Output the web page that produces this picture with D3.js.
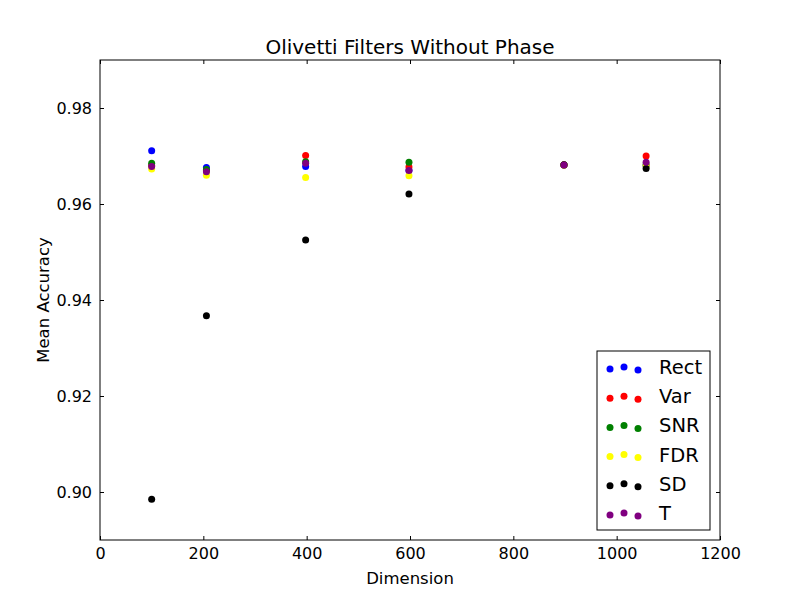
<!DOCTYPE html>
<html>
<head>
<meta charset="utf-8">
<script src="https://cdn.jsdelivr.net/npm/d3@7"></script>
<style>
  body { margin: 0; background: #fff; }
  text { font-family: "DejaVu Sans", sans-serif; }
</style>
</head>
<body>
<svg id="chart" width="800" height="600"></svg>
<script>
// Data
const dims = [100, 206, 398, 598, 898, 1057];
const rect = [0.9711, 0.9676, 0.9678, 0.9670, 0.9681, 0.9680];
const varr = [0.9680, 0.9670, 0.9701, 0.9677, 0.9681, 0.9700];
const snr = [0.9685, 0.9672, 0.9688, 0.9687, 0.9681, 0.9681];
const fdr = [0.9673, 0.9660, 0.9655, 0.9659, 0.9681, 0.9680];
const sd = [0.8985, 0.9367, 0.9525, 0.9621, 0.9682, 0.9674];
const tt = [0.9678, 0.9667, 0.9685, 0.9670, 0.9681, 0.9687];
const seriesNames = ["Rect", "Var", "SNR", "FDR", "SD", "T"];
const seriesColors = ["blue", "red", "green", "yellow", "black", "purple"];
const seriesValues = [rect, varr, snr, fdr, sd, tt];
const xTicks = [0, 200, 400, 600, 800, 1000, 1200];
const yTicks = [0.90, 0.92, 0.94, 0.96, 0.98];

const svg = d3.select("#chart");
const margin = { left: 100, right: 80, top: 60, bottom: 60 };
const width = 800, height = 600;

const x = d3.scaleLinear().domain([0, 1200]).range([margin.left, width - margin.right]);
const y = d3.scaleLinear().domain([0.89, 0.99]).range([height - margin.bottom, margin.top]);

// Axes: ticks pointing inward on all four sides
svg.append("g")
  .attr("transform", `translate(0,${height - margin.bottom})`)
  .call(d3.axisBottom(x).tickValues(xTicks).tickFormat(d3.format("d")).tickSizeInner(-4).tickSizeOuter(0).tickPadding(8))
  .call((g) => g.selectAll("text").attr("font-size", 16).attr("fill", "#000"));
svg.append("g")
  .attr("transform", `translate(0,${margin.top})`)
  .call(d3.axisTop(x).tickValues(xTicks).tickFormat("").tickSizeInner(-4).tickSizeOuter(0));
svg.append("g")
  .attr("transform", `translate(${margin.left},0)`)
  .call(d3.axisLeft(y).tickValues(yTicks).tickFormat(d3.format(".2f")).tickSizeInner(-4).tickSizeOuter(0).tickPadding(8))
  .call((g) => g.selectAll("text").attr("font-size", 16).attr("fill", "#000"));
svg.append("g")
  .attr("transform", `translate(${width - margin.right},0)`)
  .call(d3.axisRight(y).tickValues(yTicks).tickFormat("").tickSizeInner(-4).tickSizeOuter(0));
svg.selectAll(".domain").remove();
svg.selectAll(".tick line").attr("stroke", "#000");

svg.append("rect")
  .attr("x", margin.left).attr("y", margin.top)
  .attr("width", width - margin.left - margin.right)
  .attr("height", height - margin.top - margin.bottom)
  .attr("fill", "none").attr("stroke", "#000").attr("stroke-width", 1);

// Points
seriesValues.forEach((vals, i) => {
  svg.append("g")
    .selectAll("circle")
    .data(vals)
    .join("circle")
    .attr("cx", (d, j) => x(dims[j]))
    .attr("cy", (d) => y(d))
    .attr("r", 3.5)
    .attr("fill", seriesColors[i]);
});

// Titles
svg.append("text").attr("x", 410).attr("y", 54).attr("text-anchor", "middle")
  .attr("font-size", 20).text("Olivetti Filters Without Phase");
svg.append("text").attr("x", 410).attr("y", 584).attr("text-anchor", "middle")
  .attr("font-size", 16.5).text("Dimension");
svg.append("text").attr("transform", "translate(49,300) rotate(-90)").attr("text-anchor", "middle")
  .attr("font-size", 16.5).text("Mean Accuracy");

// Legend
const legend = svg.append("g").attr("transform", "translate(597,351)");
legend.append("rect").attr("width", 113).attr("height", 179)
  .attr("fill", "#fff").attr("stroke", "#000");
const jitter = [2, 0, 3];
seriesNames.forEach((name, i) => {
  const row = legend.append("g").attr("transform", `translate(0,${14 + i * 29.2})`);
  jitter.forEach((dy, k) => {
    row.append("circle").attr("cx", 13 + k * 14).attr("cy", dy + 2).attr("r", 3.5)
      .attr("fill", seriesColors[i]);
  });
  row.append("text").attr("x", 62).attr("y", 9).attr("font-size", 19.5).text(name);
});
</script>
</body>
</html>
